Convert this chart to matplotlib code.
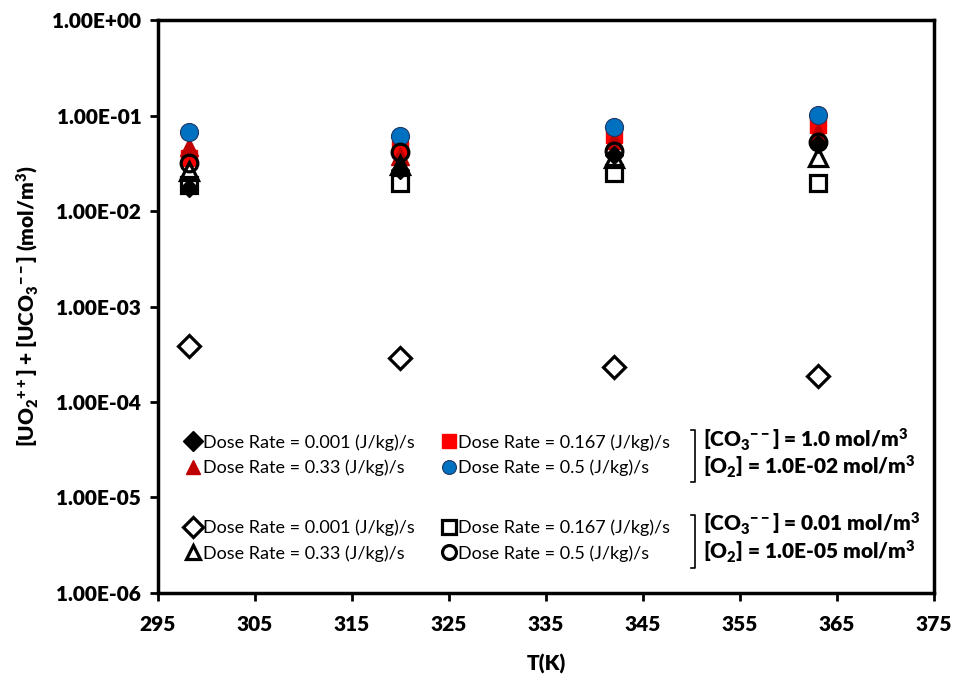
import matplotlib
matplotlib.use("Agg")
import matplotlib.pyplot as plt
from matplotlib.ticker import FixedLocator, NullLocator

plt.rcParams["font.family"] = ["Lato", "DejaVu Sans"]
plt.rcParams["mathtext.fontset"] = "custom"
plt.rcParams["mathtext.rm"] = "Lato:heavy"
plt.rcParams["mathtext.it"] = "Lato:heavy"
plt.rcParams["mathtext.bf"] = "Lato:heavy"
plt.rcParams["mathtext.default"] = "rm"

# temperatures (K)
temps = [298.15, 320, 342, 363]

# [CO3--] = 1.0 mol/m3, [O2] = 1.0E-02 mol/m3 (filled markers)
high_001 = [0.0175, 0.027, 0.039, 0.050]
high_0167 = [0.036, 0.045, 0.063, 0.080]
high_033 = [0.047, 0.038, 0.055, 0.067]
high_05 = [0.068, 0.061, 0.076, 0.102]

# [CO3--] = 0.01 mol/m3, [O2] = 1.0E-05 mol/m3 (open markers)
low_001 = [3.86e-4, 2.89e-4, 2.32e-4, 1.87e-4]
low_0167 = [0.0187, 0.0196, 0.025, 0.0196]
low_033 = [0.026, 0.030, 0.036, 0.037]
low_05 = [0.032, 0.041, 0.043, 0.053]

labels = ["Dose Rate = 0.001 (J/kg)/s", "Dose Rate = 0.167 (J/kg)/s",
          "Dose Rate = 0.33 (J/kg)/s", "Dose Rate = 0.5 (J/kg)/s"]

x_ticks = [295, 305, 315, 325, 335, 345, 355, 365, 375]
y_ticks = [1e-6, 1e-5, 1e-4, 1e-3, 1e-2, 1e-1, 1e0]
y_tick_labels = ["1.00E-06", "1.00E-05", "1.00E-04", "1.00E-03",
                 "1.00E-02", "1.00E-01", "1.00E+00"]

BOLD = "heavy"

fig = plt.figure(figsize=(9.55, 6.74), dpi=100)
ax = fig.add_axes([0.1654, 0.1202, 0.8126, 0.8501])

# open markers
o1, = ax.plot(temps, low_001, "D", ms=11, mfc="none", mec="black", mew=2.3, ls="none", zorder=4)
o2, = ax.plot(temps, low_0167, "s", ms=11, mfc="none", mec="black", mew=2.3, ls="none", zorder=4)
o3, = ax.plot(temps, low_033, "^", ms=13, mfc="none", mec="black", mew=2.3, ls="none", zorder=4)
o4, = ax.plot(temps, low_05, "o", ms=12, mfc="none", mec="black", mew=2.3, ls="none", zorder=5)

# filled markers
f1, = ax.plot(temps, high_001, "D", ms=9, color="black", ls="none", zorder=3)
f2, = ax.plot(temps, high_0167, "s", ms=11, color="#ff0000", ls="none", zorder=2)
f3, = ax.plot(temps, high_033, "^", ms=13, color="#c00000", ls="none", zorder=2)
f4, = ax.plot(temps, high_05, "o", ms=13, mfc="#0070c0", mec="#1f3864", mew=0.8, ls="none", zorder=3)

ax.set_yscale("log")
ax.set_xlim(295, 375)
ax.set_ylim(1e-6, 1e0)
ax.xaxis.set_major_locator(FixedLocator(x_ticks))
ax.yaxis.set_major_locator(FixedLocator(y_ticks))
ax.yaxis.set_minor_locator(NullLocator())
ax.set_yticklabels(y_tick_labels)
ax.tick_params(axis="both", direction="out", width=2, length=6, labelsize=15, pad=6)
ax.tick_params(axis="x", pad=10)
for lab in ax.get_xticklabels() + ax.get_yticklabels():
    lab.set_fontweight(BOLD)
for sp in ax.spines.values():
    sp.set_linewidth(2.5)

ax.set_xlabel("T(K)", fontsize=15, fontweight=BOLD, labelpad=14)
ax.set_ylabel("[UO$_2$$^{++}$] + [UCO$_3$$^{--}$] (mol/m$^3$)", fontsize=15,
              fontweight=BOLD, labelpad=8)

leg_kw = dict(ncol=2, frameon=False, fontsize=13, handletextpad=0.05,
              columnspacing=1.5, labelspacing=0.5, handlelength=0.9,
              borderaxespad=0, loc="upper left")
leg1 = ax.legend([f1, f3, f2, f4], [labels[0], labels[2], labels[1], labels[3]],
                 bbox_to_anchor=(0.026, 0.290), **leg_kw)
ax.add_artist(leg1)
leg2 = ax.legend([o1, o3, o2, o4], [labels[0], labels[2], labels[1], labels[3]],
                 bbox_to_anchor=(0.026, 0.141), **leg_kw)
for h in leg1.legend_handles + leg2.legend_handles:
    h.set_markersize(10)

# condition brackets
for top, bot in [(0.2845, 0.194), (0.136, 0.0436)]:
    ax.plot([0.687, 0.692, 0.692, 0.687], [top, top, bot, bot], color="black",
            lw=1.2, transform=ax.transAxes, clip_on=False)

ax.text(0.702, 0.2675, "[CO$_3$$^{--}$] = 1.0 mol/m$^3$", transform=ax.transAxes,
        fontsize=15, fontweight=BOLD, va="center")
ax.text(0.702, 0.2196, "[O$_2$] = 1.0E-02 mol/m$^3$", transform=ax.transAxes,
        fontsize=15, fontweight=BOLD, va="center")
ax.text(0.702, 0.121, "[CO$_3$$^{--}$] = 0.01 mol/m$^3$", transform=ax.transAxes,
        fontsize=15, fontweight=BOLD, va="center")
ax.text(0.702, 0.0713, "[O$_2$] = 1.0E-05 mol/m$^3$", transform=ax.transAxes,
        fontsize=15, fontweight=BOLD, va="center")

fig.savefig("out.png", dpi=100)
